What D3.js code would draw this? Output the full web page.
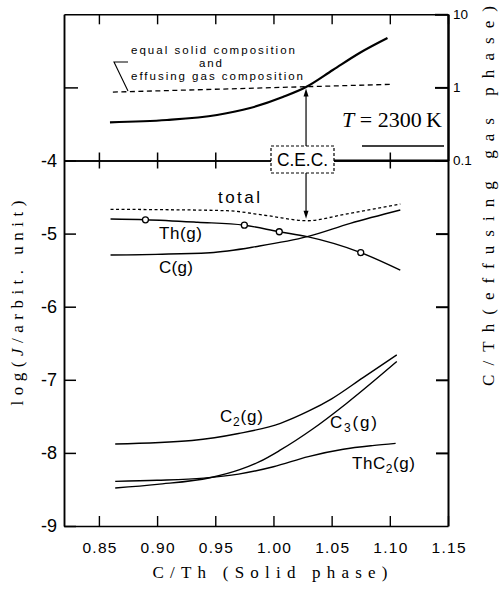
<!DOCTYPE html>
<html>
<head>
<meta charset="utf-8">
<script src="https://cdn.jsdelivr.net/npm/d3@7"></script>
<style>
  body { margin: 0; background: #fff; }
</style>
</head>
<body>
<svg id="chart" width="500" height="589"></svg>
<script>
// ---- data ----
const xTicks = [0.85, 0.90, 0.95, 1.00, 1.05, 1.10, 1.15];
const yTicks = [-9, -8, -7, -6, -5, -4];
const ratioTicks = [0.1, 1, 10];

// upper panel: C/Th of the effusing gas (right log axis)
const ratioCurve = [[0.8595, 0.333], [0.9085, 0.358], [0.9515, 0.419], [0.980, 0.522],
                    [1.008, 0.739], [1.028, 1.013], [1.051, 1.73], [1.074, 2.96], [1.098, 4.74]];
const equalLine = [[0.862, 0.862], [1.100, 1.100]];

// lower panel: log(J)
const totalJ = [[0.86, -4.668], [0.90, -4.672], [0.96, -4.687], [0.995, -4.755], [1.029, -4.824],
                [1.06, -4.74], [1.109, -4.595]];
const thJ = [[0.86, -4.80], [0.89, -4.81], [0.935, -4.845], [0.975, -4.885], [1.005, -4.975],
             [1.029, -5.042], [1.075, -5.26], [1.109, -5.50]];
const thMarks = [[0.89, -4.812], [0.975, -4.885], [1.005, -4.975], [1.075, -5.26]];
const cJ = [[0.86, -5.293], [0.9455, -5.261], [0.988, -5.17], [1.029, -5.042], [1.066, -4.86], [1.109, -4.677]];
const c2J = [[0.864, -7.878], [0.93, -7.83], [0.97, -7.735], [1.006, -7.595], [1.03, -7.43],
             [1.05, -7.26], [1.077, -6.97], [1.106, -6.66]];
const c3J = [[0.864, -8.48], [0.90, -8.43], [0.9455, -8.34], [0.971, -8.23], [0.988, -8.12],
             [1.005, -7.97], [1.034, -7.67], [1.063, -7.32], [1.106, -6.75]];
const thc2J = [[0.864, -8.39], [0.90, -8.375], [0.94, -8.345], [0.97, -8.29], [1.00, -8.19],
               [1.03, -8.05], [1.06, -7.95], [1.085, -7.90], [1.105, -7.87]];
const cecX = 1.028;

// ---- setup ----
const svg = d3.select("#chart");
const sans = "'Liberation Sans', Arial, sans-serif";
const serif = "'Liberation Serif', 'Times New Roman', serif";

const x = d3.scaleLinear().domain([0.82, 1.15]).range([64, 448]);
const y = d3.scaleLinear().domain([-9, -2]).range([526, 14.3]);
const yR = d3.scaleLog().domain([0.1, 10]).range([y(-4), y(-2)]);

function styleAxis(g, w) {
    g.selectAll("path, line").attr("stroke", "#000").attr("stroke-width", w || 1.4);
    g.selectAll("text").attr("fill", "#000").attr("font-family", sans);
}

// bottom axis
svg.append("g")
   .attr("transform", `translate(0,${y(-9)})`)
   .call(d3.axisBottom(x).tickValues(xTicks).tickSizeInner(-10).tickSizeOuter(0)
           .tickPadding(16).tickFormat(d3.format(".2f")))
   .call(g => styleAxis(g))
   .call(g => g.selectAll("text").attr("font-size", 15.5)
                .attr("textLength", 34).attr("lengthAdjust", "spacing"));

// top axis
svg.append("g")
   .attr("transform", `translate(0,${y(-2)})`)
   .call(d3.axisTop(x).tickValues(xTicks).tickSizeInner(-10).tickSizeOuter(0).tickFormat(""))
   .call(g => styleAxis(g));

// divider at log J = -4 (ratio 0.1), ticks cross it
const mid = svg.append("g").attr("transform", `translate(0,${y(-4)})`);
mid.append("g")
   .call(d3.axisBottom(x).tickValues(xTicks.slice(0, 6)).tickSizeInner(8).tickSizeOuter(0).tickFormat(""))
   .call(g => styleAxis(g, 1.5));
mid.append("g")
   .call(d3.axisTop(x).tickValues(xTicks.slice(0, 6)).tickSizeInner(8).tickSizeOuter(0).tickFormat(""))
   .call(g => styleAxis(g, 1.5));
mid.append("line").attr("x1", x(1.05)).attr("x2", x(1.15))
   .attr("stroke", "#000").attr("stroke-width", 2.2);

// left axis
svg.append("g")
   .attr("transform", `translate(${x(0.82)},0)`)
   .call(d3.axisLeft(y).tickValues(yTicks).tickSizeInner(-12).tickSizeOuter(0)
           .tickPadding(7).tickFormat(d => String(d)))
   .call(g => styleAxis(g, 1.5))
   .call(g => g.selectAll("text").attr("font-size", 18));
svg.append("g")
   .attr("transform", `translate(${x(0.82)},0)`)
   .call(d3.axisLeft(y).tickValues([-3]).tickSizeInner(-14).tickSizeOuter(0).tickFormat(""))
   .call(g => styleAxis(g, 1.5));

// right axes
svg.append("g")
   .attr("transform", `translate(${x(1.15)},0)`)
   .call(d3.axisRight(y).tickValues([-8, -7, -6, -5]).tickSizeInner(-12).tickSizeOuter(0).tickFormat(""))
   .call(g => styleAxis(g, 2));
svg.append("g")
   .attr("transform", `translate(${x(1.15)},0)`)
   .call(d3.axisRight(yR).tickValues(ratioTicks).tickSizeInner(-13).tickSizeOuter(0)
           .tickPadding(5).tickFormat(d => d < 1 ? "0.1" : String(d)))
   .call(g => styleAxis(g, 2))
   .call(g => g.selectAll("text").attr("font-size", 13.5));

// ---- curves ----
const lineJ = d3.line().x(d => x(d[0])).y(d => y(d[1])).curve(d3.curveMonotoneX);
const lineR = d3.line().x(d => x(d[0])).y(d => yR(d[1])).curve(d3.curveMonotoneX);

svg.append("path").attr("d", lineR(equalLine)).attr("fill", "none")
   .attr("stroke", "#000").attr("stroke-width", 1.3).attr("stroke-dasharray", "5,3.5");
svg.append("path").attr("d", lineR(ratioCurve)).attr("fill", "none")
   .attr("stroke", "#000").attr("stroke-width", 2.2);

svg.append("path").attr("d", lineJ(totalJ)).attr("fill", "none")
   .attr("stroke", "#000").attr("stroke-width", 1.3).attr("stroke-dasharray", "3,2.5");
[thJ, cJ, c2J, c3J, thc2J].forEach(s => {
    svg.append("path").attr("d", lineJ(s)).attr("fill", "none")
       .attr("stroke", "#000").attr("stroke-width", 1.4);
});
svg.selectAll("circle.th").data(thMarks).join("circle")
   .attr("class", "th")
   .attr("cx", d => x(d[0])).attr("cy", d => y(d[1])).attr("r", 3)
   .attr("fill", "#fff").attr("stroke", "#000").attr("stroke-width", 1.3);

// ---- C.E.C. box and arrows ----
const cx = x(cecX);
svg.append("rect").attr("x", 271).attr("y", 146).attr("width", 63).attr("height", 27)
   .attr("fill", "#fff").attr("stroke", "#000").attr("stroke-width", 1.2)
   .attr("stroke-dasharray", "3,2");
svg.append("text").attr("x", 302.5).attr("y", 166).attr("text-anchor", "middle")
   .attr("font-family", sans).attr("font-size", 18).attr("textLength", 51)
   .attr("lengthAdjust", "spacingAndGlyphs").text("C.E.C.");

function arrow(x0, y0, y1) {
    const dir = y1 > y0 ? 1 : -1;
    svg.append("line").attr("x1", x0).attr("y1", y0).attr("x2", x0).attr("y2", y1 - dir * 5)
       .attr("stroke", "#000").attr("stroke-width", 1.2);
    svg.append("path")
       .attr("d", `M${x0},${y1} L${x0 - 2.5},${y1 - dir * 8} L${x0 + 2.5},${y1 - dir * 8} Z`)
       .attr("fill", "#000");
}
arrow(cx, 146, yR(cecX) + 2);
arrow(cx, 173, y(-4.824) - 2);

// ---- annotations ----
svg.append("path").attr("d", "M128,62 L114,62 L128,91").attr("fill", "none")
   .attr("stroke", "#000").attr("stroke-width", 1.1);
const ann = [
    {t: "equal solid composition", x: 131, y: 54, len: 164},
    {t: "and", x: 199, y: 67, len: 23},
    {t: "effusing gas composition", x: 131, y: 80, len: 172}
];
ann.forEach(a => {
    svg.append("text").attr("x", a.x).attr("y", a.y)
       .attr("font-family", sans).attr("font-size", 11.5)
       .attr("textLength", a.len).attr("lengthAdjust", "spacing").text(a.t);
});

const tText = svg.append("text").attr("x", 342).attr("y", 127)
   .attr("font-family", serif).attr("font-size", 22);
tText.append("tspan").attr("font-style", "italic").text("T");
tText.append("tspan").text(" = 2300\u2009K");
svg.append("line").attr("x1", 362).attr("y1", 146).attr("x2", 444).attr("y2", 146)
   .attr("stroke", "#000").attr("stroke-width", 1.3);

function label(parts, px, py, len) {
    const t = svg.append("text").attr("x", px).attr("y", py)
       .attr("font-family", sans).attr("font-size", 17)
       .attr("textLength", len).attr("lengthAdjust", "spacing");
    parts.forEach(p => {
        const s = t.append("tspan").text(p.s);
        if (p.sub) s.attr("font-size", 12).attr("dy", 4);
        if (p.back) s.attr("dy", -4);
    });
}
label([{s: "total"}], 218, 203, 42);
label([{s: "Th(g)"}], 159, 239, 43);
label([{s: "C(g)"}], 159, 272.5, 34);
label([{s: "C"}, {s: "2", sub: true}, {s: "(g)", back: true}], 220, 422, 43);
label([{s: "C"}, {s: "3", sub: true}, {s: "(g)", back: true}], 330, 428, 47);
label([{s: "ThC"}, {s: "2", sub: true}, {s: "(g)", back: true}], 352, 469, 63);

// ---- axis titles ----
svg.append("text").attr("x", 270).attr("y", 578).attr("text-anchor", "middle")
   .attr("font-family", serif).attr("font-size", 17)
   .attr("textLength", 235).attr("lengthAdjust", "spacing")
   .text("C/Th (Solid phase)");

const lt = svg.append("text").attr("transform", "translate(23,303) rotate(-90)")
   .attr("text-anchor", "middle").attr("font-family", serif).attr("font-size", 17)
   .attr("textLength", 205).attr("lengthAdjust", "spacing");
lt.append("tspan").text("log(");
lt.append("tspan").attr("font-style", "italic").text("J");
lt.append("tspan").text("/arbit. unit)");

svg.append("text").attr("transform", "translate(494,196) rotate(-90)")
   .attr("text-anchor", "middle").attr("font-family", serif).attr("font-size", 17)
   .attr("textLength", 380).attr("lengthAdjust", "spacing")
   .text("C/Th(effusing gas phase)");
</script>
</body>
</html>
